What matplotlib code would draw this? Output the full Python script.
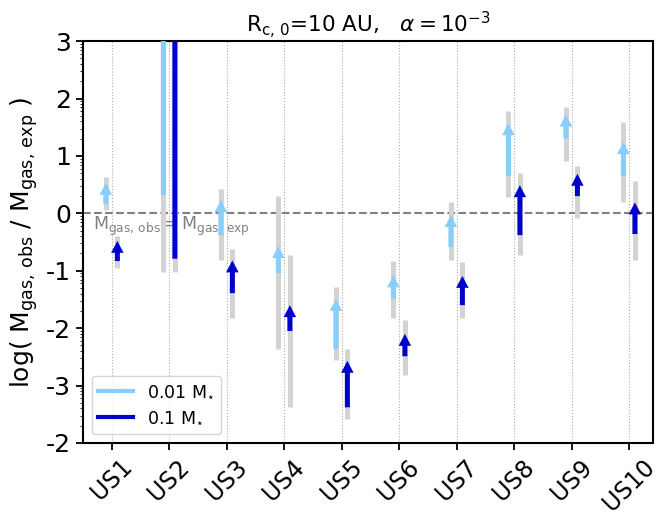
import numpy as np
import matplotlib
matplotlib.use('Agg')
import matplotlib.pyplot as plt
from matplotlib.patches import FancyArrowPatch
from matplotlib.lines import Line2D

# log(M_gas,obs / M_gas,exp) ranges
names = ['US1', 'US2', 'US3', 'US4', 'US5', 'US6', 'US7', 'US8', 'US9', 'US10']

# 0.01 Msun case
gray_lo_1 = [0.05, -1.02, -0.81, -2.37, -2.56, -1.82, -0.81, 0.28, 0.92, 0.20]
gray_hi_1 = [0.63, 4.00, 0.42, 0.30, -1.28, -0.83, 0.19, 1.79, 1.86, 1.60]
arr_lo_1 = [0.16, 0.32, -0.38, -1.04, -2.36, -1.49, -0.59, 0.65, 1.30, 0.65]
arr_hi_1 = [0.53, 4.00, 0.23, -0.57, -1.49, -1.08, -0.03, 1.57, 1.72, 1.24]

# 0.1 Msun case
gray_lo_2 = [-0.95, -1.02, -1.82, -3.38, -3.58, -2.82, -1.82, -0.72, -0.08, -0.81]
gray_hi_2 = [-0.39, 4.00, -0.62, -0.73, -2.36, -1.86, -0.85, 0.71, 0.83, 0.57]
arr_lo_2 = [-0.83, -0.79, -1.39, -2.05, -3.38, -2.49, -1.60, -0.38, 0.30, -0.36]
arr_hi_2 = [-0.48, 4.00, -0.82, -1.60, -2.57, -2.10, -1.09, 0.49, 0.69, 0.19]

ytick_exp = [-4, -3, -2, -1, 0, 1, 2, 3]
ytick_labels = ['-2', '-3', '-2', '-1', '0', '1', '2', '3']

c_light = 'lightskyblue'
c_dark = 'mediumblue'
dx = 0.1


def draw_case(ax, xpos, glo, ghi, alo, ahi, color):
    glo, ghi = np.array(glo), np.array(ghi)
    ax.vlines(xpos, 10**glo, 10**ghi, color='lightgray', lw=3.6, zorder=2)
    for x, a, b in zip(xpos, alo, ahi):
        arr = FancyArrowPatch((x, 10**a), (x, 10**b),
                              arrowstyle='simple,head_length=0.43,head_width=0.45,tail_width=0.18',
                              mutation_scale=20, color=color, lw=0,
                              shrinkA=0, shrinkB=0, zorder=3)
        ax.add_patch(arr)


fig = plt.figure(figsize=(6.68, 5.15), dpi=100)
ax = fig.add_axes([0.124, 0.140, 0.854, 0.780])
ax.set_yscale('log')

x = np.arange(1, len(names) + 1)
draw_case(ax, x - dx, gray_lo_1, gray_hi_1, arr_lo_1, arr_hi_1, c_light)
draw_case(ax, x + dx, gray_lo_2, gray_hi_2, arr_lo_2, arr_hi_2, c_dark)

ax.axhline(1, color='gray', ls='--', lw=1.5, zorder=1)
ax.text(0.68, 10**-0.03, r'$\rm M_{gas,\,obs} = M_{gas,\,exp}$', color='gray',
        fontsize=12.5, va='top', ha='left', zorder=1)

ax.set_xlim(0.5, 10.42)
ax.set_ylim(1e-4, 1e3)
ax.set_xticks(x)
ax.set_xticklabels(names, rotation=45, fontsize=17)
ax.set_yticks([10.0**k for k in ytick_exp])
ax.set_yticklabels(ytick_labels, fontsize=18)
ax.xaxis.grid(True, ls=':', color='darkgray', lw=0.8)
ax.set_axisbelow(True)
for sp in ax.spines.values():
    sp.set_linewidth(1.5)
ax.tick_params(axis='both', which='major', width=1.3, length=5)

ax.set_ylabel(r'log( $\rm M_{gas,\,obs}$ / $\rm M_{gas,\,exp}$ )', fontsize=18)
ax.set_title(r'$\rm R_{c,\,0}$=10 AU,   $\alpha=10^{-3}$', fontsize=15.5)

handles = [Line2D([], [], color=c_light, lw=3),
           Line2D([], [], color=c_dark, lw=3)]
ax.legend(handles, [r'0.01 M$_{\star}$', r'0.1 M$_{\star}$'], loc='lower left', fontsize=12.5)

fig.savefig('out.png', dpi=100)
